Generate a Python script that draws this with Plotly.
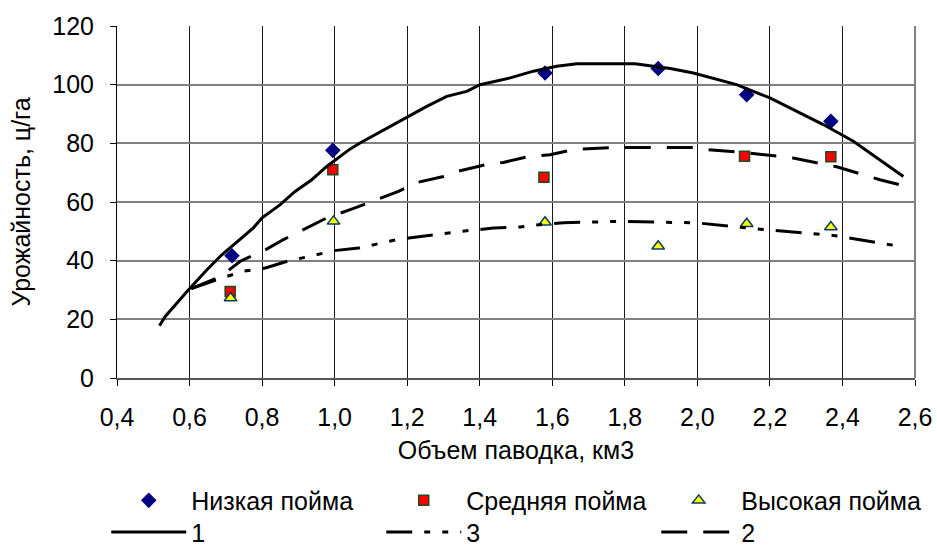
import plotly.graph_objects as go

# ---- data ----
x_obs = [0.717, 0.995, 1.58, 1.892, 2.136, 2.368]
y_low = [41.7, 77.6, 104.0, 105.5, 96.6, 87.5]           # Низкая пойма
x_mid = [0.712, 0.995, 1.577, 2.13, 2.368]
y_mid = [29.5, 71.0, 68.4, 75.6, 75.4]                   # Средняя пойма
x_high = [0.713, 0.997, 1.58, 1.892, 2.136, 2.368]
y_high = [27.3, 53.4, 53.1, 44.9, 52.6, 51.5]            # Высокая пойма

c1_x = [0.517, 0.533, 0.593, 0.648, 0.689, 0.731, 0.776, 0.80, 0.85, 0.891, 0.937,
        0.979, 1.043, 1.07, 1.153, 1.254, 1.309, 1.364, 1.401, 1.484, 1.548, 1.612,
        1.668, 1.828, 1.925, 1.989, 2.108, 2.2, 2.347, 2.43, 2.568]
c1_y = [17.8, 21.0, 29.5, 36.9, 42.0, 46.6, 51.2, 54.6, 59.1, 63.6, 67.6,
        72.2, 78.1, 80.1, 85.8, 92.6, 96.0, 97.7, 100.0, 102.3, 104.6, 106.3,
        107.1, 107.1, 105.5, 104.0, 100.0, 95.5, 86.4, 80.7, 68.7]

c2_x = [0.605, 0.685, 0.74, 0.809, 0.859, 0.933, 0.979, 1.043, 1.103, 1.176, 1.222,
        1.3, 1.341, 1.415, 1.465, 1.539, 1.594, 1.658, 1.778, 1.87, 1.99, 2.026,
        2.127, 2.264, 2.384, 2.503, 2.568]
c2_y = [30.5, 34.6, 39.8, 43.7, 47.2, 51.7, 54.6, 57.4, 60.2, 63.6, 66.5,
        68.7, 70.5, 72.7, 73.5, 75.6, 76.1, 77.9, 78.6, 78.6, 78.6, 77.9,
        76.9, 75.0, 72.0, 67.6, 65.6]

c3_x = [0.605, 0.689, 0.749, 0.809, 0.878, 0.933, 0.997, 1.066, 1.121, 1.181, 1.254,
        1.309, 1.364, 1.438, 1.511, 1.557, 1.631, 1.778, 1.998, 2.182, 2.375, 2.568]
c3_y = [30.5, 34.1, 36.4, 37.5, 40.1, 41.5, 43.4, 44.3, 45.8, 47.4, 48.5,
        49.4, 50.2, 51.1, 51.5, 52.2, 52.9, 53.4, 52.9, 50.6, 48.6, 44.7]

FONT = "Arial, Liberation Sans, sans-serif"

fig = go.Figure()
fig.add_trace(go.Scatter(x=x_obs, y=y_low, mode="markers", name="Низкая пойма",
                         legend="legend",
                         marker=dict(symbol="diamond", size=12, color="#000080",
                                     line=dict(width=0))))
fig.add_trace(go.Scatter(x=x_mid, y=y_mid, mode="markers", name="Средняя пойма",
                         legend="legend",
                         marker=dict(symbol="square", size=10, color="#FF0000",
                                     line=dict(width=1.5, color="#1E4A1E"))))
fig.add_trace(go.Scatter(x=x_high, y=y_high, mode="markers", name="Высокая пойма",
                         legend="legend",
                         marker=dict(symbol="triangle-up", size=11, color="#FFFF00",
                                     line=dict(width=1.5, color="#0D3B66"))))
fig.add_trace(go.Scatter(x=c1_x, y=c1_y, mode="lines", name="1", legend="legend2",
                         line=dict(color="black", width=3)))
fig.add_trace(go.Scatter(x=c3_x, y=c3_y, mode="lines", name="3", legend="legend2",
                         line=dict(color="black", width=3,
                                   dash="26px,12px,6px,12px,6px,12px")))
fig.add_trace(go.Scatter(x=c2_x, y=c2_y, mode="lines", name="2", legend="legend2",
                         line=dict(color="black", width=3, dash="26px,16px")))

leg_common = dict(orientation="h", xanchor="left", yanchor="top",
                  entrywidth=185, entrywidthmode="pixels", itemwidth=75,
                  font=dict(family=FONT, size=25, color="black"),
                  bgcolor="rgba(0,0,0,0)")

fig.update_layout(
    width=937, height=548,
    margin=dict(l=117, r=22, t=26, b=170, autoexpand=False),
    paper_bgcolor="white", plot_bgcolor="white",
    font=dict(family=FONT, size=25, color="black"),
    separators=", ",
    showlegend=True,
    legend=dict(x=-0.0135, y=-0.283, **leg_common),
    legend2=dict(x=-0.0135, y=-0.373, **leg_common),
    xaxis=dict(range=[0.4, 2.6], dtick=0.2, tick0=0.4, tickformat=".1f",
               showgrid=True, gridcolor="#1a1a1a", gridwidth=1,
               showline=True, linecolor="#555555", linewidth=2,
               ticks="outside", ticklen=6, tickcolor="black", tickwidth=1,
               zeroline=False, ticklabelstandoff=10,
               title=dict(text="Объем паводка, км3", standoff=11,
                          font=dict(family=FONT, size=25))),
    yaxis=dict(range=[0, 120], dtick=20, tick0=0,
               showgrid=True, gridcolor="#808080", gridwidth=2,
               showline=True, linecolor="black", linewidth=1,
               ticks="outside", ticklen=6, tickcolor="black", tickwidth=1,
               zeroline=False, ticklabelstandoff=11,
               title=dict(text="Урожайность, ц/га", standoff=14,
                          font=dict(family=FONT, size=25))),
    shapes=[dict(type="line", xref="paper", yref="paper", x0=1, x1=1, y0=0, y1=1,
                 line=dict(color="#808080", width=2))],
)

fig.write_html("out.html",
               config={"displayModeBar": False},
               post_script="document.body.style.margin='0px';"
                           "document.body.style.overflow='hidden';")
